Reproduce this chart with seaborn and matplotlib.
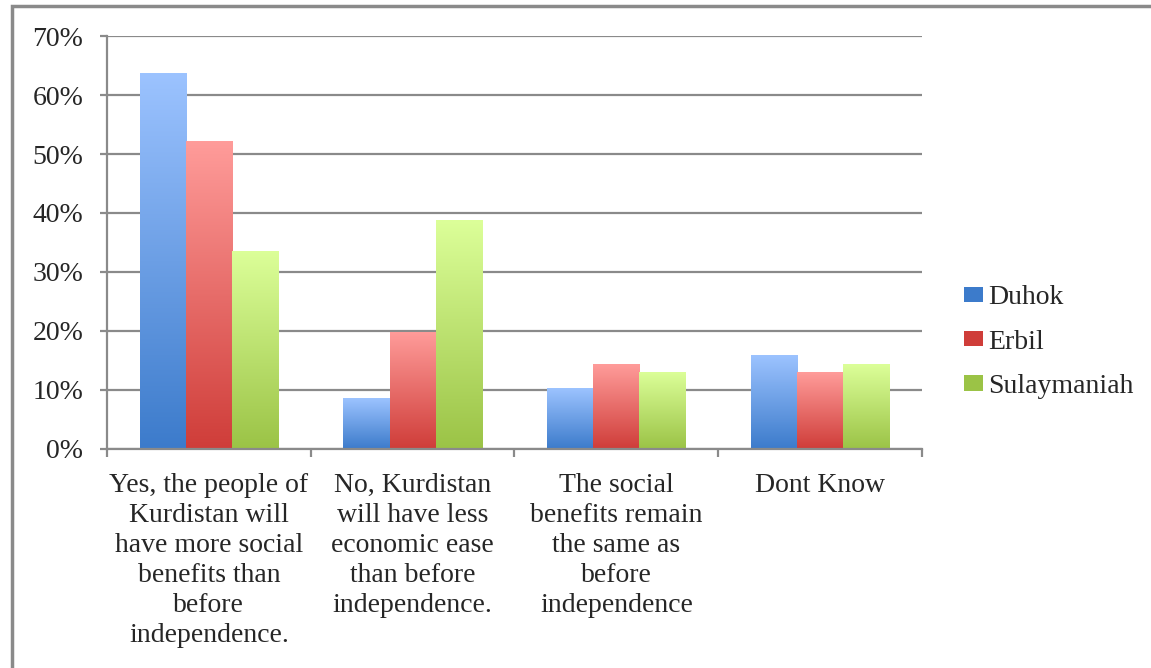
import matplotlib
matplotlib.use("Agg")
import matplotlib.pyplot as plt
from matplotlib.colors import LinearSegmentedColormap
from matplotlib.patches import Patch, Rectangle
import numpy as np
import pandas as pd
import seaborn as sns

CATEGORIES = [
    "Yes, the people of\nKurdistan will\nhave more social\nbenefits than\nbefore\nindependence.",
    "No, Kurdistan\nwill have less\neconomic ease\nthan before\nindependence.",
    "The social\nbenefits remain\nthe same as\nbefore\nindependence",
    "Dont Know",
]
REGIONS = ["Duhok", "Erbil", "Sulaymaniah"]
DUHOK = [63.7, 8.6, 10.3, 15.9]
ERBIL = [52.2, 19.9, 14.4, 13.0]
SULAYMANIAH = [33.6, 38.8, 13.1, 14.4]

# light top -> dark bottom, like the office-style gradient fill
GRADIENTS = {
    "Duhok": ("#9cc3ff", "#3c7bcb"),
    "Erbil": ("#ff9c9a", "#cf3d39"),
    "Sulaymaniah": ("#dcff99", "#9bc346"),
}

df = pd.DataFrame({
    "category": CATEGORIES * 3,
    "region": [r for r in REGIONS for _ in CATEGORIES],
    "value": DUHOK + ERBIL + SULAYMANIAH,
})

sns.set_theme(style="white")
plt.rcParams["font.family"] = ["Liberation Serif", "DejaVu Serif"]

fig = plt.figure(figsize=(11.51, 6.68), dpi=100)
ax = fig.add_axes([0.093, 0.328, 0.708, 0.618])

mid = {r: c[1] for r, c in GRADIENTS.items()}
sns.barplot(data=df, x="category", y="value", hue="region", order=CATEGORIES,
            hue_order=REGIONS, palette=mid, width=0.68, ax=ax, legend=False,
            saturation=1, linewidth=0)

grad = np.linspace(0, 1, 256).reshape(-1, 1)
for container, region in zip(ax.containers, REGIONS):
    top, bottom = GRADIENTS[region]
    cmap = LinearSegmentedColormap.from_list(region, [bottom, top])
    for bar in container:
        x0, y0 = bar.get_x(), bar.get_y()
        w, h = bar.get_width(), bar.get_height()
        bar.set_facecolor("none")
        im = ax.imshow(grad, cmap=cmap, origin="lower", aspect="auto",
                       extent=(x0, x0 + w, y0, y0 + h), zorder=2)
        im.set_clip_path(bar)
ax.set_xlim(-0.5, 3.5)
ax.set_ylim(0, 70)

ax.set_yticks(range(0, 71, 10))
ax.set_yticklabels([f"{v}%" for v in range(0, 71, 10)], fontsize=20)
ax.yaxis.grid(True, color="#8a8a8a", linewidth=1.6)
ax.set_axisbelow(True)

ax.set_xticks(range(4))
ax.set_xticklabels(CATEGORIES, fontsize=20, linespacing=1.27)
ax.set_xticks([-0.5, 0.5, 1.5, 2.5, 3.5], minor=True)
ax.tick_params(axis="x", which="major", length=0, pad=17)
ax.tick_params(axis="x", which="minor", length=6, width=1.6, color="#8a8a8a", bottom=True)
ax.tick_params(axis="y", length=5, width=1.6, color="#8a8a8a", left=True, pad=12)
ax.set_xlabel("")
ax.set_ylabel("")

for side in ["top", "right"]:
    ax.spines[side].set_visible(False)
for side in ["left", "bottom"]:
    ax.spines[side].set_color("#8a8a8a")
    ax.spines[side].set_linewidth(1.6)

handles = [Patch(facecolor=GRADIENTS[r][1], edgecolor="none") for r in REGIONS]
fig.legend(handles, REGIONS, loc="center left", bbox_to_anchor=(0.8156, 0.488),
           frameon=False, fontsize=20, handlelength=0.68, handleheight=0.47,
           handletextpad=0.2, labelspacing=0.7)

fig.patches.append(Rectangle((12 / 1151, -0.1), 1.2, 1 - 6 / 668 + 0.1,
                             transform=fig.transFigure, fill=False,
                             edgecolor="#8a8a8a", linewidth=2.5))

fig.savefig("out.png", dpi=100)
